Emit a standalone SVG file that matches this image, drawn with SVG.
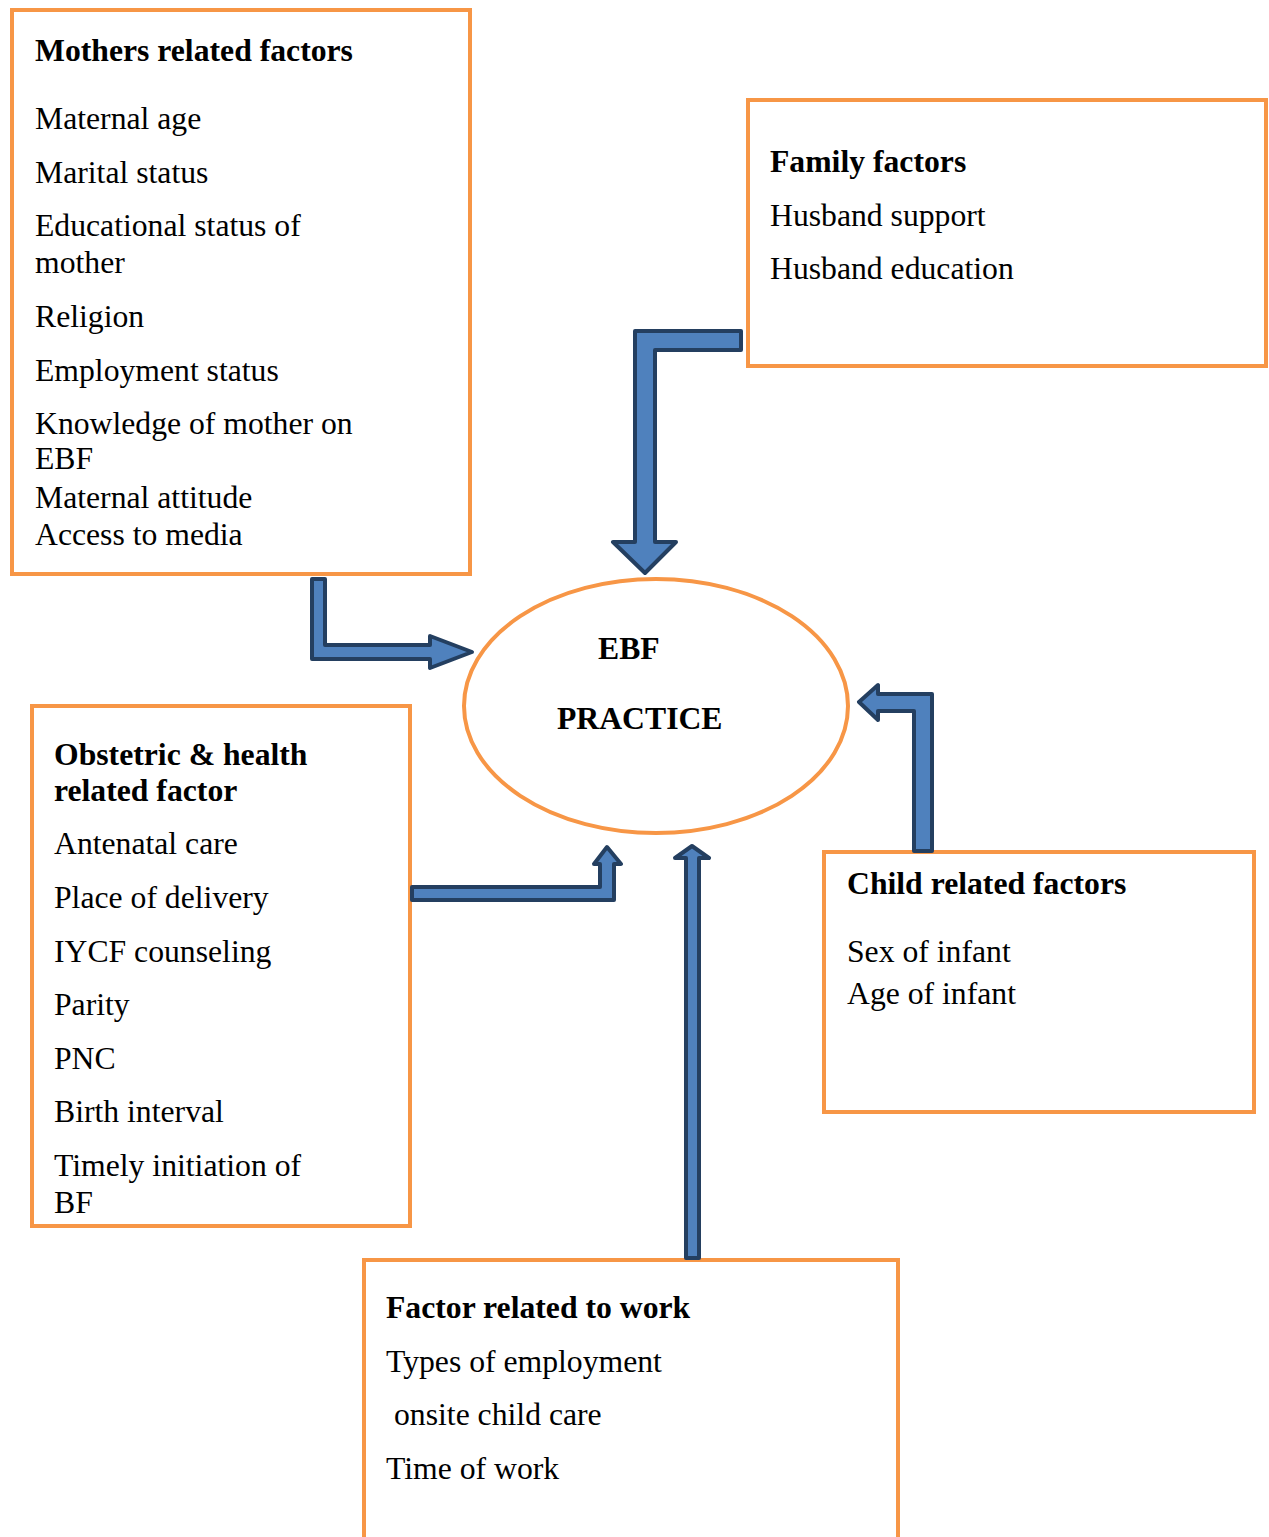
<svg xmlns="http://www.w3.org/2000/svg" width="1269" height="1537" viewBox="0 0 1269 1537">
<style>
.box{fill:#fff;stroke:#F79646;stroke-width:4}
.arr{fill:#4F81BD;stroke:#243F60;stroke-width:4;stroke-linejoin:round}
text{font-family:"Liberation Serif","Times New Roman",serif;font-size:31.7px;fill:#000}
.b{font-weight:bold}
</style>
<rect width="1269" height="1537" fill="#fff"/>
<g id="mothers">
<rect class="box" x="12" y="10" width="458" height="564"/>
<text x="35" y="61" class="b">Mothers related factors</text>
<text x="35" y="129">Maternal age</text>
<text x="35" y="183">Marital status</text>
<text x="35" y="236">Educational status of</text>
<text x="35" y="273">mother</text>
<text x="35" y="327">Religion</text>
<text x="35" y="381">Employment status</text>
<text x="35" y="434">Knowledge of mother on</text>
<text x="35" y="469">EBF</text>
<text x="35" y="508">Maternal attitude</text>
<text x="35" y="545">Access to media</text>
</g>
<g id="family">
<rect class="box" x="748" y="100" width="518" height="266"/>
<text x="770" y="172" class="b">Family factors</text>
<text x="770" y="226">Husband support</text>
<text x="770" y="279">Husband education</text>
</g>
<g id="ebf">
<ellipse cx="656" cy="706" rx="192" ry="127" fill="#fff" stroke="#F79646" stroke-width="4"/>
<text x="598" y="659" class="b">EBF</text>
<text x="557" y="729" class="b">PRACTICE</text>
</g>
<g id="obstetric">
<rect class="box" x="32" y="706" width="378" height="520"/>
<text x="54" y="765" class="b">Obstetric &amp; health</text>
<text x="54" y="801" class="b">related factor</text>
<text x="54" y="854">Antenatal care</text>
<text x="54" y="908">Place of delivery</text>
<text x="54" y="962">IYCF counseling</text>
<text x="54" y="1015">Parity</text>
<text x="54" y="1069">PNC</text>
<text x="54" y="1122">Birth interval</text>
<text x="54" y="1176">Timely initiation of</text>
<text x="54" y="1213">BF</text>
</g>
<g id="child">
<rect class="box" x="824" y="852" width="430" height="260"/>
<text x="847" y="894" class="b">Child related factors</text>
<text x="847" y="962">Sex of infant</text>
<text x="847" y="1004">Age of infant</text>
</g>
<g id="work">
<rect class="box" x="364" y="1260" width="534" height="290"/>
<text x="386" y="1318" class="b">Factor related to work</text>
<text x="386" y="1372">Types of employment</text>
<text x="394" y="1425">onsite child care</text>
<text x="386" y="1479">Time of work</text>
</g>
<g id="connectors">
<path class="arr" d="M312,579 L325,579 L325,645 L430,645 L430,636 L472,652 L430,668 L430,659 L312,659 Z"/>
<path class="arr" d="M635,331 L741,331 L741,350 L655,350 L655,542 L676,542 L645,573 L613,542 L635,542 Z"/>
<path class="arr" d="M859,702 L878,685 L878,694 L932,694 L932,851 L914,851 L914,711 L878,711 L878,720 Z"/>
<path class="arr" d="M412,887 L600,887 L600,864 L594,864 L607,847 L621,864 L614,864 L614,900 L412,900 Z"/>
<path class="arr" d="M686,1258 L686,858 L675,858 L692,846 L709,858 L699,858 L699,1258 Z"/>
</g>
</svg>
